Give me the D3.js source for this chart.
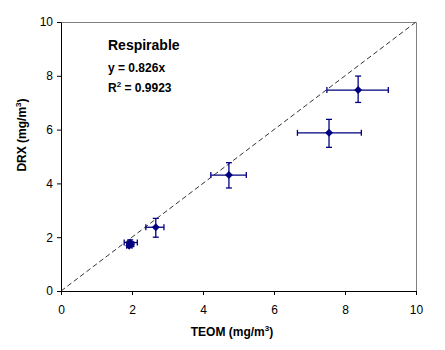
<!DOCTYPE html>
<html>
<head>
<meta charset="utf-8">
<script src="https://cdn.jsdelivr.net/npm/d3@7"></script>
<style>
  body { margin: 0; background: #fff; }
  svg { font-family: "Liberation Sans", Arial, sans-serif; }
</style>
</head>
<body>
<svg id="drawing_region"></svg>
<script>
// TEOM (x) vs DRX (y), with error bar extents
const teom    = [1.92, 1.97, 1.95, 2.67, 4.73, 7.55, 8.37];
const drx     = [1.68, 1.74, 1.80, 2.37, 4.31, 5.88, 7.47];
const teomLo  = [1.85, 1.88, 1.78, 2.39, 4.22, 6.66, 7.49];
const teomHi  = [2.00, 2.05, 2.15, 2.90, 5.22, 8.46, 9.22];
const drxLo   = [1.62, 1.66, 1.70, 2.00, 3.83, 5.34, 7.01];
const drxHi   = [1.74, 1.82, 1.90, 2.70, 4.77, 6.38, 7.99];
const ticks   = [0, 2, 4, 6, 8, 10];
const slope   = 0.826;

const data = teom.map((x, i) => ({
    x: x, y: drx[i], x0: teomLo[i], x1: teomHi[i], y0: drxLo[i], y1: drxHi[i]
}));

const config = {
    width: 445,
    height: 350,
    margin: {top: 22, right: 29, bottom: 59, left: 61}
};

const svg = d3.select('#drawing_region')
    .attr('width', config.width)
    .attr('height', config.height);

const inner_width = config.width - config.margin.left - config.margin.right;
const inner_height = config.height - config.margin.top - config.margin.bottom;

const chart = svg.append('g')
    .attr('transform', `translate(${config.margin.left}, ${config.margin.top})`);

const xscale = d3.scaleLinear().domain([0, 10]).range([0, inner_width]);
const yscale = d3.scaleLinear().domain([0, 10]).range([inner_height, 0]);

// gray frame on top and right
chart.append('path')
    .attr('d', `M0,0.5H${inner_width + 0.5}V${inner_height}`)
    .attr('fill', 'none')
    .attr('stroke', '#808080');

// 1:1 dashed line
chart.append('line')
    .attr('x1', xscale(0)).attr('y1', yscale(0))
    .attr('x2', xscale(10)).attr('y2', yscale(10))
    .attr('stroke', '#333')
    .attr('stroke-width', 1)
    .attr('stroke-dasharray', '5,3');

const xaxis = d3.axisBottom(xscale).tickValues(ticks).tickSize(4).tickPadding(10).tickSizeOuter(0);
const yaxis = d3.axisLeft(yscale).tickValues(ticks).tickSize(4).tickPadding(4).tickSizeOuter(0);

const xg = chart.append('g')
    .attr('transform', `translate(0, ${inner_height})`)
    .call(xaxis);
const yg = chart.append('g').call(yaxis);

[xg, yg].forEach(g => {
    g.selectAll('path, line').attr('stroke', '#000');
    g.selectAll('text').attr('font-size', 12).attr('fill', '#000')
        .attr('font-family', '"Liberation Sans", Arial, sans-serif');
});

// error bars
const col = '#000080';
const cap = 3;
const eb = chart.append('g').attr('stroke', col).attr('stroke-width', 1.3);
data.forEach(d => {
    eb.append('line').attr('x1', xscale(d.x0)).attr('x2', xscale(d.x1))
        .attr('y1', yscale(d.y)).attr('y2', yscale(d.y));
    eb.append('line').attr('x1', xscale(d.x0)).attr('x2', xscale(d.x0))
        .attr('y1', yscale(d.y) - cap).attr('y2', yscale(d.y) + cap);
    eb.append('line').attr('x1', xscale(d.x1)).attr('x2', xscale(d.x1))
        .attr('y1', yscale(d.y) - cap).attr('y2', yscale(d.y) + cap);
    eb.append('line').attr('x1', xscale(d.x)).attr('x2', xscale(d.x))
        .attr('y1', yscale(d.y0)).attr('y2', yscale(d.y1));
    eb.append('line').attr('x1', xscale(d.x) - cap).attr('x2', xscale(d.x) + cap)
        .attr('y1', yscale(d.y0)).attr('y2', yscale(d.y0));
    eb.append('line').attr('x1', xscale(d.x) - cap).attr('x2', xscale(d.x) + cap)
        .attr('y1', yscale(d.y1)).attr('y2', yscale(d.y1));
});

// diamond markers
chart.selectAll('path.pt')
    .data(data)
    .enter()
    .append('path')
    .attr('class', 'pt')
    .attr('d', d3.symbol().type(d3.symbolDiamond2).size(40))
    .attr('transform', d => `translate(${xscale(d.x)}, ${yscale(d.y)})`)
    .attr('fill', col);

// annotation
const ann = chart.append('g').attr('font-weight', 'bold').attr('fill', '#000');
ann.append('text').attr('x', 47).attr('y', 28).attr('font-size', 14).text('Respirable');
ann.append('text').attr('x', 47).attr('y', 50).attr('font-size', 12).text(`y = ${slope}x`);
const r2 = ann.append('text').attr('x', 47).attr('y', 70).attr('font-size', 12);
r2.append('tspan').text('R');
r2.append('tspan').attr('dy', -5).attr('font-size', 8).text('2');
r2.append('tspan').attr('dy', 5).text(' = 0.9923');

// axis titles
const xt = svg.append('text')
    .attr('x', 232).attr('y', 336)
    .attr('text-anchor', 'middle')
    .attr('font-size', 12).attr('font-weight', 'bold')
    .text('TEOM (mg/m');
xt.append('tspan').attr('dy', -5).attr('font-size', 8).text('3');
xt.append('tspan').attr('dy', 5).text(')');

const yt = svg.append('text')
    .attr('transform', 'translate(26, 135) rotate(-90)')
    .attr('text-anchor', 'middle')
    .attr('font-size', 12).attr('font-weight', 'bold')
    .text('DRX (mg/m');
yt.append('tspan').attr('dy', -5).attr('font-size', 8).text('3');
yt.append('tspan').attr('dy', 5).text(')');
</script>
</body>
</html>
